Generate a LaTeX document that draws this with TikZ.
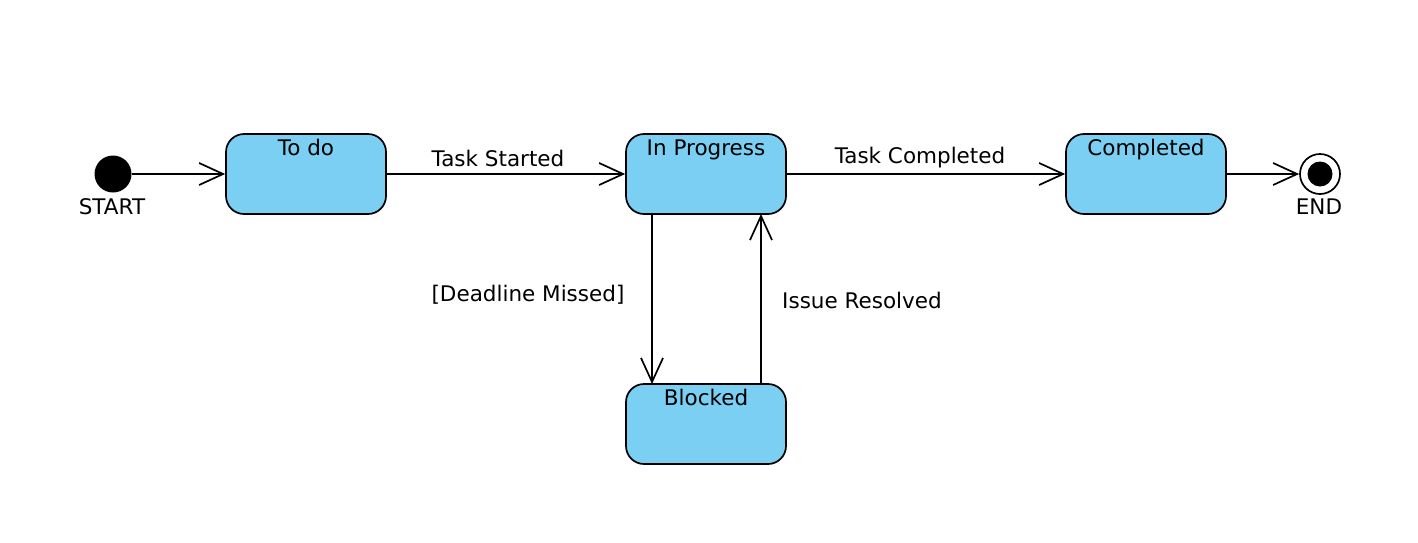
\documentclass[tikz,border=0pt]{standalone}
\usepackage{fontspec}
\setmainfont{DejaVu Sans}
\usetikzlibrary{arrows.meta}
\definecolor{stfill}{RGB}{122,207,243}
\begin{document}
\begin{tikzpicture}[x=1pt,y=-1pt,
  txt/.style={font=\fontsize{21.5}{25}\selectfont, inner sep=0pt},
  state/.style={draw, line width=1.7pt, fill=stfill, rounded corners=18pt,
    minimum width=160pt, minimum height=80pt, inner sep=0pt},
  trans/.style={line width=1.7pt, -{Straight Barb[length=24pt,width=22pt,line width=1.7pt]}},
]
\useasboundingbox (0,0) rectangle (1418,542);
% states
\node[state, label={[txt, anchor=north, yshift=-6pt]north:To do}] (todo) at (306,174) {};
\node[state, label={[txt, anchor=north, yshift=-6pt]north:In Progress}] (prog) at (706,174) {};
\node[state, label={[txt, anchor=north, yshift=-6pt]north:Completed}] (comp) at (1146,174) {};
\node[state, label={[txt, anchor=north, yshift=-6pt]north:Blocked}] (block) at (706,424) {};
% initial / final
\node[circle, fill=black, minimum size=37pt, inner sep=0pt] (start) at (113,174) {};
\node[txt, anchor=north] (startlbl) at (112,198) {START};
\node[circle, draw, line width=1.7pt, fill=white, minimum size=40pt, inner sep=0pt] (end) at (1320,174) {};
\node[circle, fill=black, minimum size=25pt, inner sep=0pt] (endin) at (1320,174) {};
\node[txt, anchor=north] (endlbl) at (1319,199) {END};
% transitions
\coordinate (d1) at (652,214);
\coordinate (d2) at (652,384);
\coordinate (u1) at (761,384);
\coordinate (u2) at (761,214);
\draw[trans] (start.east) -- (todo.west);
\draw[trans] (todo.east) -- (prog.west);
\draw[trans] (prog.east) -- (comp.west);
\draw[trans] (comp.east) -- (end.west);
\draw[trans] (d1) -- (d2);
\draw[trans] (u1) -- (u2);
% labels
\node[txt] (l1) at (498,158) {Task Started};
\node[txt] (l2) at (920,158) {Task Completed};
\node[txt] (l3) at (528,295) {[Deadline Missed]};
\node[txt] (l4) at (862,300) {Issue Resolved};
\end{tikzpicture}
\end{document}
